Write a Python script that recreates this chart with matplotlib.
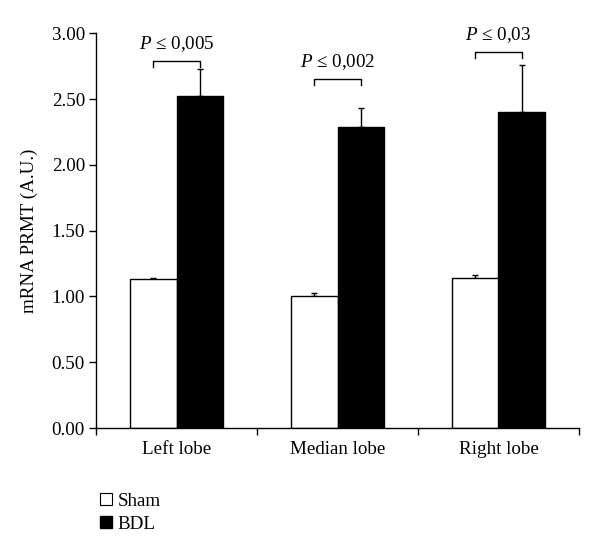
import matplotlib
matplotlib.use("Agg")
import matplotlib.pyplot as plt
import numpy as np
from matplotlib.lines import Line2D

plt.rcParams['font.family'] = ['Liberation Serif', 'DejaVu Serif']
plt.rcParams['mathtext.fontset'] = 'custom'
plt.rcParams['mathtext.rm'] = 'Liberation Serif'
plt.rcParams['mathtext.it'] = 'Liberation Serif:italic'

categories = ["Left lobe", "Median lobe", "Right lobe"]
sham = [1.13, 1.00, 1.14]
sham_err = [0.01, 0.025, 0.02]
bdl = [2.52, 2.29, 2.40]
bdl_err = [0.21, 0.145, 0.355]
p_labels = ["0,005", "0,002", "0,03"]
bracket_y = [2.79, 2.65, 2.855]
series_names = ["Sham", "BDL"]

FS = 13.7

fig = plt.figure(figsize=(6, 5.6), dpi=100)
ax = fig.add_axes([0.16, 0.2357, 0.805, 0.705])

x = np.arange(len(categories))
w = 0.286
ax.bar(x - w/2, sham, w, color='white', edgecolor='black', linewidth=1.0, zorder=2)
ax.bar(x + w/2, bdl, w, color='black', edgecolor='black', linewidth=1.0, zorder=2)
ax.errorbar(x - w/2, sham, yerr=[np.zeros(3), sham_err], fmt='none', ecolor='black',
            elinewidth=1.0, capsize=2, capthick=1.0, zorder=1)
ax.errorbar(x + w/2, bdl, yerr=[np.zeros(3), bdl_err], fmt='none', ecolor='black',
            elinewidth=1.0, capsize=2, capthick=1.0, zorder=1)

for i in range(len(categories)):
    y = bracket_y[i]
    h = 0.045
    ax.plot([x[i] - w/2, x[i] - w/2, x[i] + w/2, x[i] + w/2], [y - h, y, y, y - h],
            color='black', linewidth=1.0)
    ax.text(x[i], y + 0.055, r"$\mathit{P}$ ≤ " + p_labels[i], ha='center', va='bottom',
            fontsize=FS)

ax.set_xlim(-0.5, 2.5)
ax.set_ylim(0, 3.0)
ax.set_yticks(np.arange(0, 3.01, 0.5))
ax.set_yticklabels([f"{v:.2f}" for v in np.arange(0, 3.01, 0.5)])
ax.set_xticks(x)
ax.set_xticklabels(categories)
ax.set_xticks([-0.5, 0.5, 1.5, 2.5], minor=True)
ax.tick_params(axis='x', which='major', length=0, pad=9, labelsize=FS)
ax.tick_params(axis='x', which='minor', length=5, direction='out', width=1.0)
ax.tick_params(axis='y', length=5, direction='out', width=1.0, labelsize=FS, pad=3)
for s in ['top', 'right']:
    ax.spines[s].set_visible(False)
for s in ['left', 'bottom']:
    ax.spines[s].set_linewidth(1.0)
ax.set_ylabel("mRNA PRMT (A.U.)", fontsize=FS, labelpad=10)

handles = [Line2D([], [], marker='s', linestyle='none', markersize=9,
                  markerfacecolor='white', markeredgecolor='black', markeredgewidth=0.8),
           Line2D([], [], marker='s', linestyle='none', markersize=9,
                  markerfacecolor='black', markeredgecolor='black')]
fig.legend(handles, series_names, loc='upper left', bbox_to_anchor=(0.145, 0.138),
           frameon=False, fontsize=FS, handletextpad=0.1, labelspacing=0.3,
           handlelength=1.0, borderpad=0.0)

fig.savefig("out.png", dpi=100)
